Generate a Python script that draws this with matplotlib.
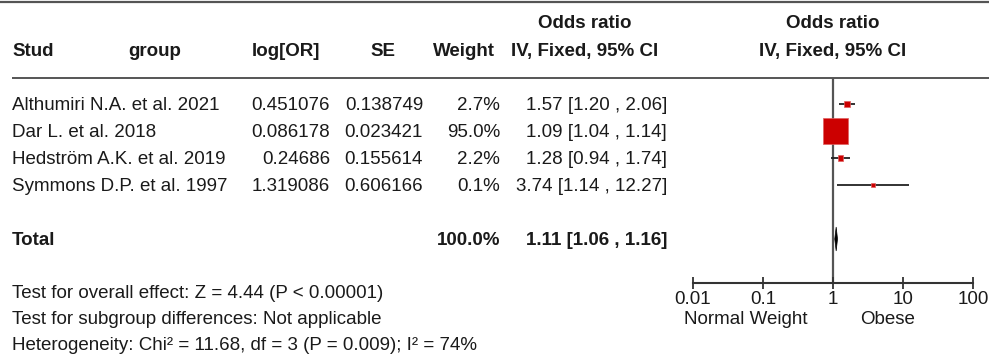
import matplotlib
matplotlib.use("Agg")
import matplotlib.pyplot as plt
from matplotlib.patches import Polygon

plt.rcParams['font.family'] = ['Liberation Sans', 'DejaVu Sans']

# ---------------- data ----------------
studies = ["Althumiri N.A. et al. 2021", "Dar L. et al. 2018",
           "Hedström A.K. et al. 2019", "Symmons D.P. et al. 1997"]
log_or = ["0.451076", "0.086178", "0.24686", "1.319086"]
se = ["0.138749", "0.023421", "0.155614", "0.606166"]
weight = [2.7, 95.0, 2.2, 0.1]
odds = [1.57, 1.09, 1.28, 3.74]
ci_low = [1.20, 1.04, 0.94, 1.14]
ci_high = [2.06, 1.14, 1.74, 12.27]
total_weight = 100.0
total_or = 1.11
total_low = 1.06
total_high = 1.16
xticks = [0.01, 0.1, 1, 10, 100]
xtick_labels = ["0.01", "0.1", "1", "10", "100"]
footer = ["Test for overall effect: Z = 4.44 (P < 0.00001)",
          "Test for subgroup differences: Not applicable",
          "Heterogeneity: Chi² = 11.68, df = 3 (P = 0.009); I² = 74%"]

W, H = 989, 354
fig = plt.figure(figsize=(W / 100, H / 100), dpi=100)

# background axes in pixel coordinates for the table layout
bg = fig.add_axes([0, 0, 1, 1])
bg.set_xlim(0, W)
bg.set_ylim(H, 0)
bg.axis("off")

TXT = "#1a1a1a"
FS = 13.5
OFF = 1.5  # vertical text offset (px)
bg.plot([0, W], [2, 2], color="#555555", lw=1.6, solid_capstyle="butt")
bg.plot([12, W], [78, 78], color="#555555", lw=1.4, solid_capstyle="butt")

# headers
hy1, hy2 = 22 + OFF, 50 + OFF
bg.text(12, hy2, "Stud", fontsize=FS, fontweight="bold", color=TXT, va="center", ha="left")
bg.text(128, hy2, "group", fontsize=FS, fontweight="bold", color=TXT, va="center", ha="left")
bg.text(320, hy2, "log[OR]", fontsize=FS, fontweight="bold", color=TXT, va="center", ha="right")
bg.text(383, hy2, "SE", fontsize=FS, fontweight="bold", color=TXT, va="center", ha="center")
bg.text(495, hy2, "Weight", fontsize=FS, fontweight="bold", color=TXT, va="center", ha="right")
bg.text(585, hy1, "Odds ratio", fontsize=FS, fontweight="bold", color=TXT, va="center", ha="center")
bg.text(585, hy2, "IV, Fixed, 95% CI", fontsize=FS, fontweight="bold", color=TXT, va="center", ha="center")
bg.text(833, hy1, "Odds ratio", fontsize=FS, fontweight="bold", color=TXT, va="center", ha="center")
bg.text(833, hy2, "IV, Fixed, 95% CI", fontsize=FS, fontweight="bold", color=TXT, va="center", ha="center")

row0, dy = 104, 27
for i, name in enumerate(studies):
    y = row0 + i * dy + OFF
    bg.text(12, y, name, fontsize=FS, color=TXT, va="center", ha="left")
    bg.text(330, y, log_or[i], fontsize=FS, color=TXT, va="center", ha="right")
    bg.text(423, y, se[i], fontsize=FS, color=TXT, va="center", ha="right")
    bg.text(500, y, f"{weight[i]:.1f}%", fontsize=FS, color=TXT, va="center", ha="right")
    bg.text(667, y, f"{odds[i]:.2f} [{ci_low[i]:.2f} , {ci_high[i]:.2f}]",
            fontsize=FS, color=TXT, va="center", ha="right")

yt = row0 + 5 * dy + OFF
bg.text(12, yt, "Total", fontsize=FS, fontweight="bold", color=TXT, va="center", ha="left")
bg.text(500, yt, f"{total_weight:.1f}%", fontsize=FS, fontweight="bold", color=TXT, va="center", ha="right")
bg.text(667, yt, f"{total_or:.2f} [{total_low:.2f} , {total_high:.2f}]",
        fontsize=FS, fontweight="bold", color=TXT, va="center", ha="right")

for j, line in enumerate(footer):
    bg.text(12, 294 + j * 26, line, fontsize=FS, color=TXT, va="center", ha="left")

# forest axes
x0, x1 = 693, 973
ytop, ybot = 78, 283
ax = fig.add_axes([x0 / W, (H - ybot) / H, (x1 - x0) / W, (ybot - ytop) / H])
ax.set_xscale("log")
ax.set_xlim(xticks[0], xticks[-1])
top_row = (ytop - row0) / dy
bot_row = (ybot - row0) / dy
ax.set_ylim(bot_row, top_row)
ax.patch.set_alpha(0)
for s in ["top", "left", "right"]:
    ax.spines[s].set_visible(False)
ax.spines["bottom"].set_color("#333333")
ax.spines["bottom"].set_linewidth(1.5)
ax.set_yticks([])
ax.set_xticks(xticks)
ax.set_xticklabels(xtick_labels)
ax.minorticks_off()
ax.tick_params(axis="x", direction="inout", length=9, width=1.3, color="#333333",
               labelsize=FS, labelcolor=TXT, pad=1.5)

ax.axvline(1, color="#555555", lw=1.6, zorder=1)

rows = list(range(len(studies)))
ax.hlines(rows, ci_low, ci_high, color="#222222", lw=1.3, zorder=2)
ax.scatter(odds, rows, s=[3.4 * w + 8 for w in weight], marker="s", color="#cc0000",
           edgecolors="#e06060", linewidths=0.5, zorder=3)

tr = 5
h = 12 / dy
diamond = Polygon([(total_low, tr), (total_or, tr - h), (total_high, tr), (total_or, tr + h)],
                  closed=True, facecolor="black", edgecolor="black", lw=0.5, zorder=4)
ax.add_patch(diamond)

bg.text(746, 319.5, "Normal Weight", fontsize=FS, color=TXT, va="center", ha="center")
bg.text(888, 319.5, "Obese", fontsize=FS, color=TXT, va="center", ha="center")

fig.savefig("out.png", dpi=100)
